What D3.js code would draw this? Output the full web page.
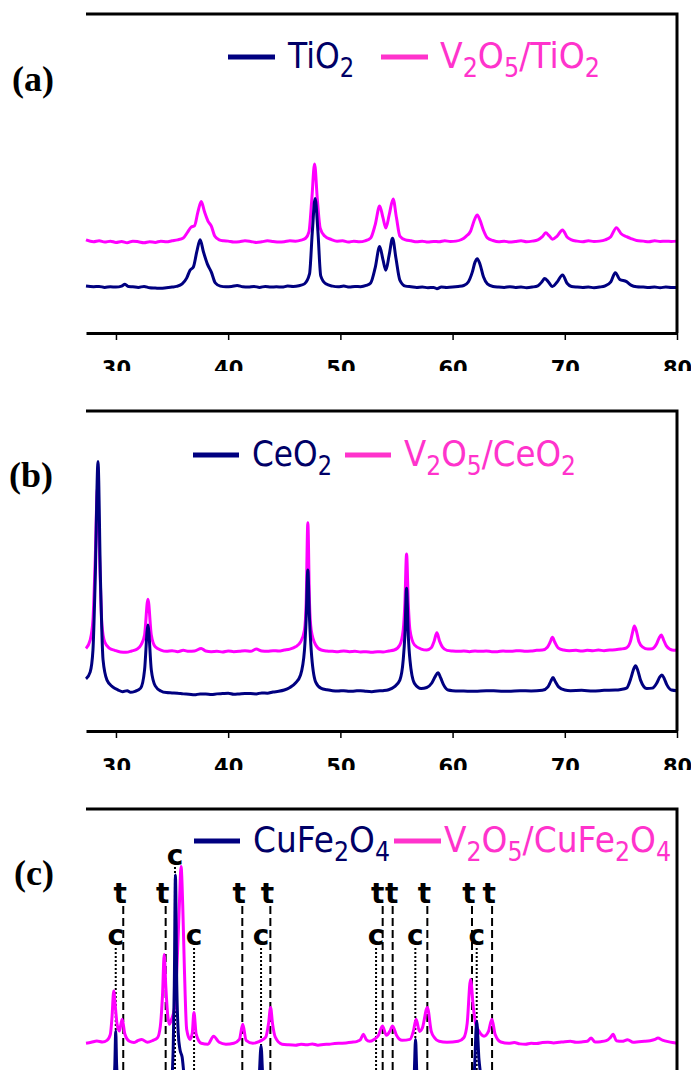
<!DOCTYPE html>
<html lang="en">
<head>
<meta charset="UTF-8">
<script src="https://cdn.jsdelivr.net/npm/d3@7"></script>
<style>
  body { margin: 0; background: #fff; }
  svg { display: block; }
  .axis path { stroke: #000; stroke-width: 3; }
  .axis line { stroke: #000; stroke-width: 1.5; }
  .axis text { font: bold 21px "DejaVu Sans", sans-serif; fill: #000; }
  .legend text { font-family: "DejaVu Sans", sans-serif; font-size: 36px; }
  .tag { font: bold 36px "Liberation Serif", serif; }
  .mark { font: bold 28px "DejaVu Sans", sans-serif; text-anchor: middle; }
</style>
</head>
<body>
<svg class="chart"></svg>
<script>

// x ticks (2 theta)
const ticks = [30, 40, 50, 60, 70, 80];

// (a) TiO2 and V2O5/TiO2, [2theta, intensity a.u.]
const tio2 = [[27.33,14.7],[28.0,14.5],[28.5,14.6],[29.0,14.3],[29.5,14.5],[30.0,14.4],[30.5,14.7],[30.8,15.3],[31.1,14.6],[31.5,14.5],[32.0,14.3],[32.5,14.6],[33.0,14.2],[33.5,14.1],[34.0,14.0],[34.5,14.2],[35.0,14.4],[35.4,14.6],[35.9,15.4],[36.3,17.2],[36.6,19.7],[36.9,20.7],[37.2,25.4],[37.5,29.2],[37.8,25.4],[38.15,21.6],[38.5,19.1],[38.85,15.7],[39.3,14.7],[39.8,14.5],[40.3,14.6],[40.8,14.9],[41.3,14.5],[41.8,14.4],[42.3,14.6],[42.8,14.3],[43.3,14.6],[43.8,14.4],[44.3,14.5],[44.8,14.4],[45.3,14.7],[45.8,14.6],[46.3,14.8],[46.8,15.4],[47.25,18.5],[47.5,31.7],[47.75,42.2],[48.0,31.7],[48.25,17.9],[48.7,15.4],[49.3,14.7],[49.8,14.5],[50.3,14.7],[50.8,14.4],[51.3,14.6],[51.8,14.5],[52.3,14.9],[52.7,15.7],[53.1,20.4],[53.5,27.1],[53.8,22.9],[54.05,19.7],[54.35,24.5],[54.65,29.7],[54.95,23.5],[55.3,16.6],[55.8,14.7],[56.3,14.5],[56.8,14.3],[57.3,14.4],[57.8,14.2],[58.3,14.3],[58.6,13.9],[59.0,14.4],[59.5,14.3],[60.0,14.4],[60.5,14.6],[61.0,14.9],[61.4,16.0],[61.75,19.0],[62.0,22.2],[62.2,23.3],[62.45,21.5],[62.75,17.6],[63.1,15.4],[63.6,14.6],[64.1,14.4],[64.6,14.3],[65.1,14.5],[65.6,14.3],[66.1,14.4],[66.6,14.2],[67.1,14.4],[67.6,14.8],[68.0,16.2],[68.2,17.1],[68.5,16.2],[68.9,14.6],[69.3,15.9],[69.8,18.2],[70.2,15.6],[70.6,14.6],[71.1,14.4],[71.6,14.3],[72.1,14.4],[72.6,14.2],[73.1,14.4],[73.6,14.8],[74.1,16.0],[74.5,18.9],[74.9,16.8],[75.5,16.1],[75.9,15.0],[76.4,14.5],[77.0,14.4],[77.5,14.3],[78.0,14.4],[78.5,14.2],[79.0,14.4],[79.5,14.3],[80.0,14.3]];
const vTio2 = [[27.33,29.2],[28.0,28.6],[28.5,28.9],[29.0,28.5],[29.5,28.8],[30.0,28.4],[30.5,28.7],[31.0,28.3],[31.5,28.8],[32.0,28.6],[32.5,28.3],[33.0,28.6],[33.5,28.4],[34.0,28.8],[34.5,28.6],[35.0,28.9],[35.5,29.2],[36.0,29.8],[36.4,31.7],[36.7,33.2],[37.0,33.6],[37.3,37.9],[37.6,41.2],[37.9,37.9],[38.2,35.1],[38.5,33.5],[38.8,30.4],[39.2,29.2],[39.6,28.9],[40.0,28.8],[40.5,28.5],[41.0,28.6],[41.5,28.9],[42.0,28.7],[42.5,28.4],[43.0,28.6],[43.5,28.9],[44.0,28.7],[44.5,28.5],[45.0,28.6],[45.5,28.9],[46.0,28.8],[46.5,29.1],[46.9,29.7],[47.2,31.7],[47.45,41.7],[47.7,53.0],[47.95,41.7],[48.2,32.9],[48.6,30.4],[49.2,29.3],[49.7,28.8],[50.2,28.9],[50.7,28.5],[51.2,28.8],[51.7,28.6],[52.2,28.9],[52.7,29.8],[53.1,33.9],[53.5,39.8],[53.8,36.1],[54.05,32.9],[54.35,37.0],[54.7,42.0],[55.0,36.1],[55.3,30.4],[55.8,29.2],[56.3,28.9],[56.8,28.6],[57.3,28.8],[57.8,28.5],[58.3,28.7],[58.8,28.6],[59.3,28.9],[59.8,28.7],[60.3,28.8],[60.8,29.3],[61.2,30.3],[61.6,31.9],[61.95,35.5],[62.2,37.0],[62.45,35.3],[62.75,32.2],[63.1,29.8],[63.6,29.0],[64.1,28.6],[64.6,28.8],[65.1,28.5],[65.6,28.7],[66.1,28.9],[66.6,28.6],[67.1,28.8],[67.6,29.2],[68.0,30.2],[68.3,31.4],[68.6,30.5],[68.9,29.4],[69.3,30.3],[69.8,32.3],[70.2,30.1],[70.6,29.2],[71.1,28.8],[71.6,28.6],[72.1,28.9],[72.6,28.7],[73.1,28.8],[73.6,29.2],[74.1,30.2],[74.6,33.0],[75.0,31.2],[75.5,30.2],[75.9,29.6],[76.4,29.0],[77.0,28.8],[77.5,28.6],[78.0,28.9],[78.5,28.7],[79.0,28.8],[79.5,28.7],[80.0,28.8]];

// (b) CeO2 and V2O5/CeO2
const ceo2 = [[27.33,16.3],[27.7,18.4],[27.95,25.3],[28.15,47.2],[28.4,84.2],[28.62,47.2],[28.85,22.2],[29.2,15.9],[29.7,13.8],[30.2,12.8],[30.6,12.3],[31.0,12.6],[31.3,12.1],[31.7,12.4],[32.2,13.4],[32.55,19.1],[32.85,33.1],[33.15,19.1],[33.5,14.1],[34.0,12.5],[34.5,12.0],[35.0,11.9],[35.5,11.8],[36.0,11.6],[36.5,11.5],[37.0,11.3],[37.5,11.6],[38.0,11.6],[38.5,11.4],[39.0,11.6],[39.5,11.7],[40.0,11.8],[40.5,11.5],[41.0,11.6],[41.5,11.7],[42.0,11.7],[42.5,11.6],[43.0,11.9],[43.5,11.8],[44.0,12.2],[44.5,12.4],[45.0,12.8],[45.5,13.6],[46.0,15.0],[46.45,17.5],[46.8,25.3],[46.95,35.0],[47.1,50.3],[47.25,35.0],[47.4,25.3],[47.8,15.3],[48.3,13.3],[48.8,12.9],[49.3,12.6],[49.8,12.5],[50.3,12.6],[50.8,12.4],[51.3,12.5],[51.8,12.6],[52.3,12.4],[52.8,12.3],[53.3,12.5],[53.8,12.6],[54.3,12.9],[54.8,13.8],[55.3,15.9],[55.6,22.2],[55.75,30.0],[55.9,44.6],[56.05,30.0],[56.2,22.2],[56.6,14.9],[57.2,13.3],[57.7,13.6],[58.15,15.0],[58.45,17.0],[58.7,18.2],[58.95,16.5],[59.2,14.4],[59.6,12.8],[60.0,12.6],[61.0,12.5],[62.0,12.4],[63.0,12.6],[64.0,12.5],[65.0,12.4],[66.0,12.6],[67.0,12.5],[68.0,12.7],[68.5,13.8],[68.75,15.5],[68.95,16.7],[69.15,15.5],[69.45,13.8],[70.0,12.8],[70.5,12.6],[71.5,12.7],[72.5,12.5],[73.5,12.7],[74.5,12.8],[75.0,13.0],[75.5,13.4],[75.9,16.6],[76.1,19.0],[76.3,20.4],[76.5,19.0],[76.75,15.9],[77.3,13.3],[77.8,13.4],[78.2,15.0],[78.45,16.8],[78.65,17.5],[78.85,16.5],[79.1,14.4],[79.5,12.8],[80.0,12.6]];
const vCeo2 = [[27.33,25.8],[27.7,28.4],[27.95,34.7],[28.15,53.4],[28.35,75.8],[28.55,53.4],[28.75,33.1],[29.0,27.8],[29.4,25.9],[29.9,25.2],[30.4,24.7],[30.9,24.6],[31.4,25.0],[31.9,25.6],[32.25,27.0],[32.55,30.0],[32.85,41.2],[33.15,30.0],[33.5,26.3],[34.0,25.3],[34.5,24.9],[35.0,25.1],[35.5,24.8],[36.0,25.2],[36.5,24.9],[37.0,25.0],[37.6,25.8],[38.0,25.0],[38.5,24.8],[39.0,24.9],[39.5,24.7],[40.0,25.0],[40.5,24.8],[41.0,24.9],[41.5,25.1],[42.0,24.9],[42.5,25.6],[43.0,25.0],[43.5,24.9],[44.0,25.1],[44.5,25.0],[45.0,25.3],[45.5,25.6],[46.0,26.3],[46.45,27.8],[46.8,31.6],[46.95,40.0],[47.1,65.1],[47.25,40.0],[47.4,31.6],[47.8,26.9],[48.3,25.3],[48.8,25.0],[49.3,24.9],[49.8,24.8],[50.3,25.0],[50.8,24.8],[51.3,24.9],[51.8,24.7],[52.3,24.8],[52.8,24.6],[53.3,24.8],[53.8,24.7],[54.3,25.0],[54.8,25.3],[55.3,26.9],[55.6,31.6],[55.75,40.0],[55.9,55.3],[56.05,40.0],[56.2,31.6],[56.6,26.9],[57.2,25.6],[57.7,25.3],[58.1,26.0],[58.35,28.0],[58.6,30.7],[58.85,28.0],[59.1,26.2],[59.5,25.2],[60.0,25.0],[60.5,24.9],[61.0,25.0],[61.5,24.8],[62.0,25.0],[62.5,24.9],[63.0,25.0],[63.5,24.8],[64.0,24.8],[64.5,25.0],[65.0,24.9],[65.5,25.0],[66.0,25.1],[66.5,24.9],[67.0,25.0],[67.5,25.2],[68.0,25.3],[68.45,26.2],[68.7,27.8],[68.9,29.3],[69.1,27.8],[69.4,26.0],[69.9,25.3],[70.4,25.1],[71.0,25.2],[71.5,25.0],[72.0,25.2],[72.5,25.1],[73.0,25.3],[73.5,25.1],[74.0,25.3],[74.5,25.4],[75.0,25.6],[75.5,26.0],[75.85,28.0],[76.05,31.0],[76.2,32.8],[76.4,31.0],[76.6,28.0],[76.95,26.2],[77.4,25.6],[77.8,25.7],[78.15,27.0],[78.4,29.0],[78.6,30.0],[78.8,28.5],[79.05,26.6],[79.4,25.5],[79.7,25.2],[80.0,25.3]];

// (c) CuFe2O4 and V2O5/CuFe2O4
const cufe = [[27.33,10.9],[29.0,11.1],[29.5,11.3],[29.78,14.0],[29.9,20.0],[29.98,30.6],[30.06,20.0],[30.2,14.0],[30.6,11.3],[32.0,11.1],[33.5,11.2],[34.3,11.8],[34.9,13.1],[35.1,25.0],[35.2,45.0],[35.3,79.4],[35.42,45.0],[35.55,30.0],[35.7,24.9],[35.9,22.4],[36.1,16.0],[36.5,11.8],[37.0,12.3],[37.5,11.3],[40.0,11.1],[42.5,11.4],[42.75,15.6],[42.93,25.9],[43.1,15.6],[43.4,11.5],[46.0,11.1],[50.0,11.2],[53.0,11.3],[56.4,11.8],[56.58,17.1],[56.7,28.0],[56.82,17.1],[57.1,11.8],[61.7,11.9],[61.95,18.7],[62.15,33.7],[62.35,21.8],[62.5,17.1],[62.75,11.8],[66.0,11.0],[70.0,11.1],[75.0,11.0],[80.0,10.9]];
const vCufe = [[27.33,26.8],[27.8,27.1],[28.3,27.5],[28.8,27.2],[29.2,27.7],[29.5,29.6],[29.65,35.0],[29.8,43.1],[29.95,38.0],[30.1,32.7],[30.3,30.6],[30.55,34.3],[30.8,29.6],[31.2,27.4],[31.6,27.0],[31.9,27.5],[32.3,28.0],[32.8,27.1],[33.3,27.7],[33.7,28.5],[33.95,32.0],[34.15,42.0],[34.3,54.5],[34.45,44.0],[34.6,36.0],[34.75,32.7],[34.95,34.3],[35.2,37.4],[35.45,52.0],[35.65,70.0],[35.8,82.0],[35.95,70.0],[36.1,50.0],[36.3,31.2],[36.6,28.0],[36.8,30.0],[36.95,36.4],[37.15,29.6],[37.6,26.8],[38.2,26.5],[38.7,29.0],[39.2,27.1],[39.8,26.5],[40.5,26.8],[41.0,28.0],[41.3,32.7],[41.6,27.7],[42.2,26.8],[42.8,27.4],[43.35,28.7],[43.6,33.0],[43.78,38.0],[43.95,33.0],[44.2,28.7],[44.8,26.5],[45.4,26.3],[46.0,26.2],[46.5,26.5],[47.0,26.3],[47.5,26.6],[48.0,26.2],[48.5,26.4],[49.0,26.5],[49.5,26.7],[50.0,26.8],[50.5,26.9],[51.0,27.1],[51.5,27.4],[51.8,28.0],[52.05,29.6],[52.3,28.0],[52.6,27.4],[53.0,28.0],[53.4,29.3],[53.75,32.2],[54.1,29.3],[54.4,30.5],[54.65,32.2],[55.0,29.3],[55.5,27.7],[56.2,28.0],[56.5,30.5],[56.75,34.3],[57.05,30.5],[57.3,31.5],[57.75,38.0],[58.1,30.5],[58.4,28.5],[58.8,27.4],[59.5,27.1],[60.5,27.4],[61.0,28.5],[61.3,33.0],[61.6,46.7],[61.85,38.0],[62.05,33.0],[62.35,30.6],[62.8,29.0],[63.2,30.5],[63.5,34.3],[63.8,29.5],[64.3,27.2],[65.0,26.8],[65.5,27.0],[66.0,26.6],[66.5,26.5],[67.0,26.8],[67.5,26.7],[68.0,27.0],[68.5,27.1],[69.0,26.9],[69.5,27.1],[70.0,27.3],[70.5,27.4],[71.0,27.1],[71.5,27.2],[72.0,27.4],[72.35,28.4],[72.7,27.2],[73.2,27.3],[73.7,27.6],[74.05,28.5],[74.3,29.6],[74.6,27.6],[75.1,27.4],[75.6,27.9],[76.1,27.1],[76.6,27.3],[77.1,27.4],[77.6,27.6],[78.05,28.0],[78.3,28.4],[78.7,27.8],[79.2,27.3],[79.6,27.0],[80.0,26.8]];

// phase reflections marked in (c): c = cubic, t = tetragonal
const cubicPeaks = [29.98, 35.26, 36.96, 42.93, 53.18, 56.68, 62.15];
const tetraPeaks = [30.65, 34.43, 41.26, 43.76, 53.77, 54.66, 57.75, 61.73, 63.52];

// legend names, "_" marks a subscript digit
const namesA = ["TiO_2", "V_2O_5/TiO_2"];
const namesB = ["CeO_2", "V_2O_5/CeO_2"];
const namesC = ["CuFe_2O_4", "V_2O_5/CuFe_2O_4"];
const tags = ["(a)", "(b)", "(c)"];

const navy = "#000080", magenta = "#ff00ff", legendPink = "#ff33cc";

const W = 691, H = 1070;

const x = d3.scaleLinear().domain([27.33, 80]).range([86, 677]);

// panel layout (pixels)
const panels = [
  {top: 14, axis: 333, clip: [0, 371], legendY: 57, textY: 68, tag: [12, 91],
   legend: [[228, 275, 288, 67], [381, 428, 440, 160]], names: namesA, data: [tio2, vTio2]},
  {top: 411, axis: 731, clip: [380, 770], legendY: 455, textY: 466, tag: [9, 487],
   legend: [[193, 239, 252, 80], [345, 391, 404, 172]], names: namesB, data: [ceo2, vCeo2]},
  {top: 809, axis: 1129, clip: [780, 1070], legendY: 841, textY: 852, tag: [14, 885],
   legend: [[194, 240, 253, 137], [394, 441, 444, 227]], names: namesC, data: [cufe, vCufe]}
];

const svg = d3.select(".chart")
    .attr("width", W)
    .attr("height", H);

const defs = svg.append("defs");

// write "V_2O_5" as text with subscript tspans
function chem(text, label) {
  let sub = false;
  label.split(/(_\d)/).filter(s => s).forEach(part => {
    if (part[0] === "_") {
      text.append("tspan").attr("dy", sub ? 0 : 9).attr("font-size", "0.72em").text(part.slice(1));
      sub = true;
    } else {
      text.append("tspan").attr("dy", sub ? -9 : 0).text(part);
      sub = false;
    }
  });
}

// x of the "t" labels, nudged apart where two reflections sit close
function tLabelX(list) {
  const xs = list.map(d => x(d) - 3);
  for (let k = 0; k < xs.length - 1; k++) {
    const gap = xs[k + 1] - xs[k];
    if (gap < 14) { xs[k] -= (14 - gap) / 2; xs[k + 1] += (14 - gap) / 2; }
  }
  return xs;
}

panels.forEach((p, i) => {
  defs.append("clipPath").attr("id", `clip${i}`)
    .append("rect").attr("x", 0).attr("y", p.clip[0]).attr("width", W).attr("height", p.clip[1] - p.clip[0]);

  const g = svg.append("g").attr("clip-path", `url(#clip${i})`);

  const y = d3.scaleLinear().domain([0, 100]).range([p.axis, p.top]);

  const line = d3.line()
      .x(d => x(d[0]))
      .y(d => y(d[1]))
      .curve(d3.curveMonotoneX);

  // reflection markers (panel c only)
  if (i === 2) {
    const strongest = d3.greatest(p.data[0], d => d[1])[0];
    const raised = d3.least(cubicPeaks, d => Math.abs(d - strongest));
    const tx = tLabelX(tetraPeaks);
    const marks = g.append("g");
    marks.selectAll(".tline").data(tetraPeaks).enter().append("line")
        .attr("x1", d => x(d)).attr("x2", d => x(d))
        .attr("y1", 906).attr("y2", p.axis)
        .attr("stroke", "#000").attr("stroke-width", 2).attr("stroke-dasharray", "8,4");
    marks.selectAll(".cline").data(cubicPeaks).enter().append("line")
        .attr("x1", d => x(d)).attr("x2", d => x(d))
        .attr("y1", d => d === raised ? 867 : 948).attr("y2", p.axis)
        .attr("stroke", "#000").attr("stroke-width", 2).attr("stroke-dasharray", "2,2");
    marks.selectAll(".tlab").data(tetraPeaks).enter().append("text")
        .attr("class", "mark").attr("x", (d, k) => tx[k]).attr("y", 903).text("t");
    marks.selectAll(".clab").data(cubicPeaks).enter().append("text")
        .attr("class", "mark").attr("x", d => x(d)).attr("y", d => d === raised ? 865 : 945).text("c");
  }

  // patterns: modified sample first, bare support on top
  g.append("path").datum(p.data[1])
      .attr("fill", "none").attr("stroke", magenta).attr("stroke-width", 3)
      .attr("stroke-linejoin", "round").attr("d", line);
  g.append("path").datum(p.data[0])
      .attr("fill", "none").attr("stroke", navy).attr("stroke-width", 3)
      .attr("stroke-linejoin", "round").attr("d", line);

  // top and right frame
  g.append("path")
      .attr("d", `M${x.range()[0]},${p.top}H${x.range()[1]}V${p.axis}`)
      .attr("fill", "none").attr("stroke", "#000").attr("stroke-width", 3);

  // the bottom axis of (c) lies below the picture
  if (p.axis < H) {
    g.append("g")
        .attr("class", "axis")
        .attr("transform", `translate(0,${p.axis})`)
        .call(d3.axisBottom(x).tickValues(ticks).tickSize(7).tickSizeOuter(0).tickPadding(21));
  }

  // legend
  const leg = g.append("g").attr("class", "legend");
  [navy, legendPink].forEach((c, k) => {
    const [x0, x1, tx, tw] = p.legend[k];
    leg.append("line")
        .attr("x1", x0).attr("x2", x1).attr("y1", p.legendY).attr("y2", p.legendY)
        .attr("stroke", c).attr("stroke-width", 5);
    const t = leg.append("text")
        .attr("fill", c === navy ? "#000066" : c);
    chem(t, p.names[k]);
    const w = t.node().getBBox().width;
    t.attr("transform", `translate(${tx},${p.textY}) scale(${tw / w},1)`);
  });

  svg.append("text")
      .attr("class", "tag")
      .attr("x", p.tag[0]).attr("y", p.tag[1])
      .text(tags[i]);
});

</script>
</body>
</html>
